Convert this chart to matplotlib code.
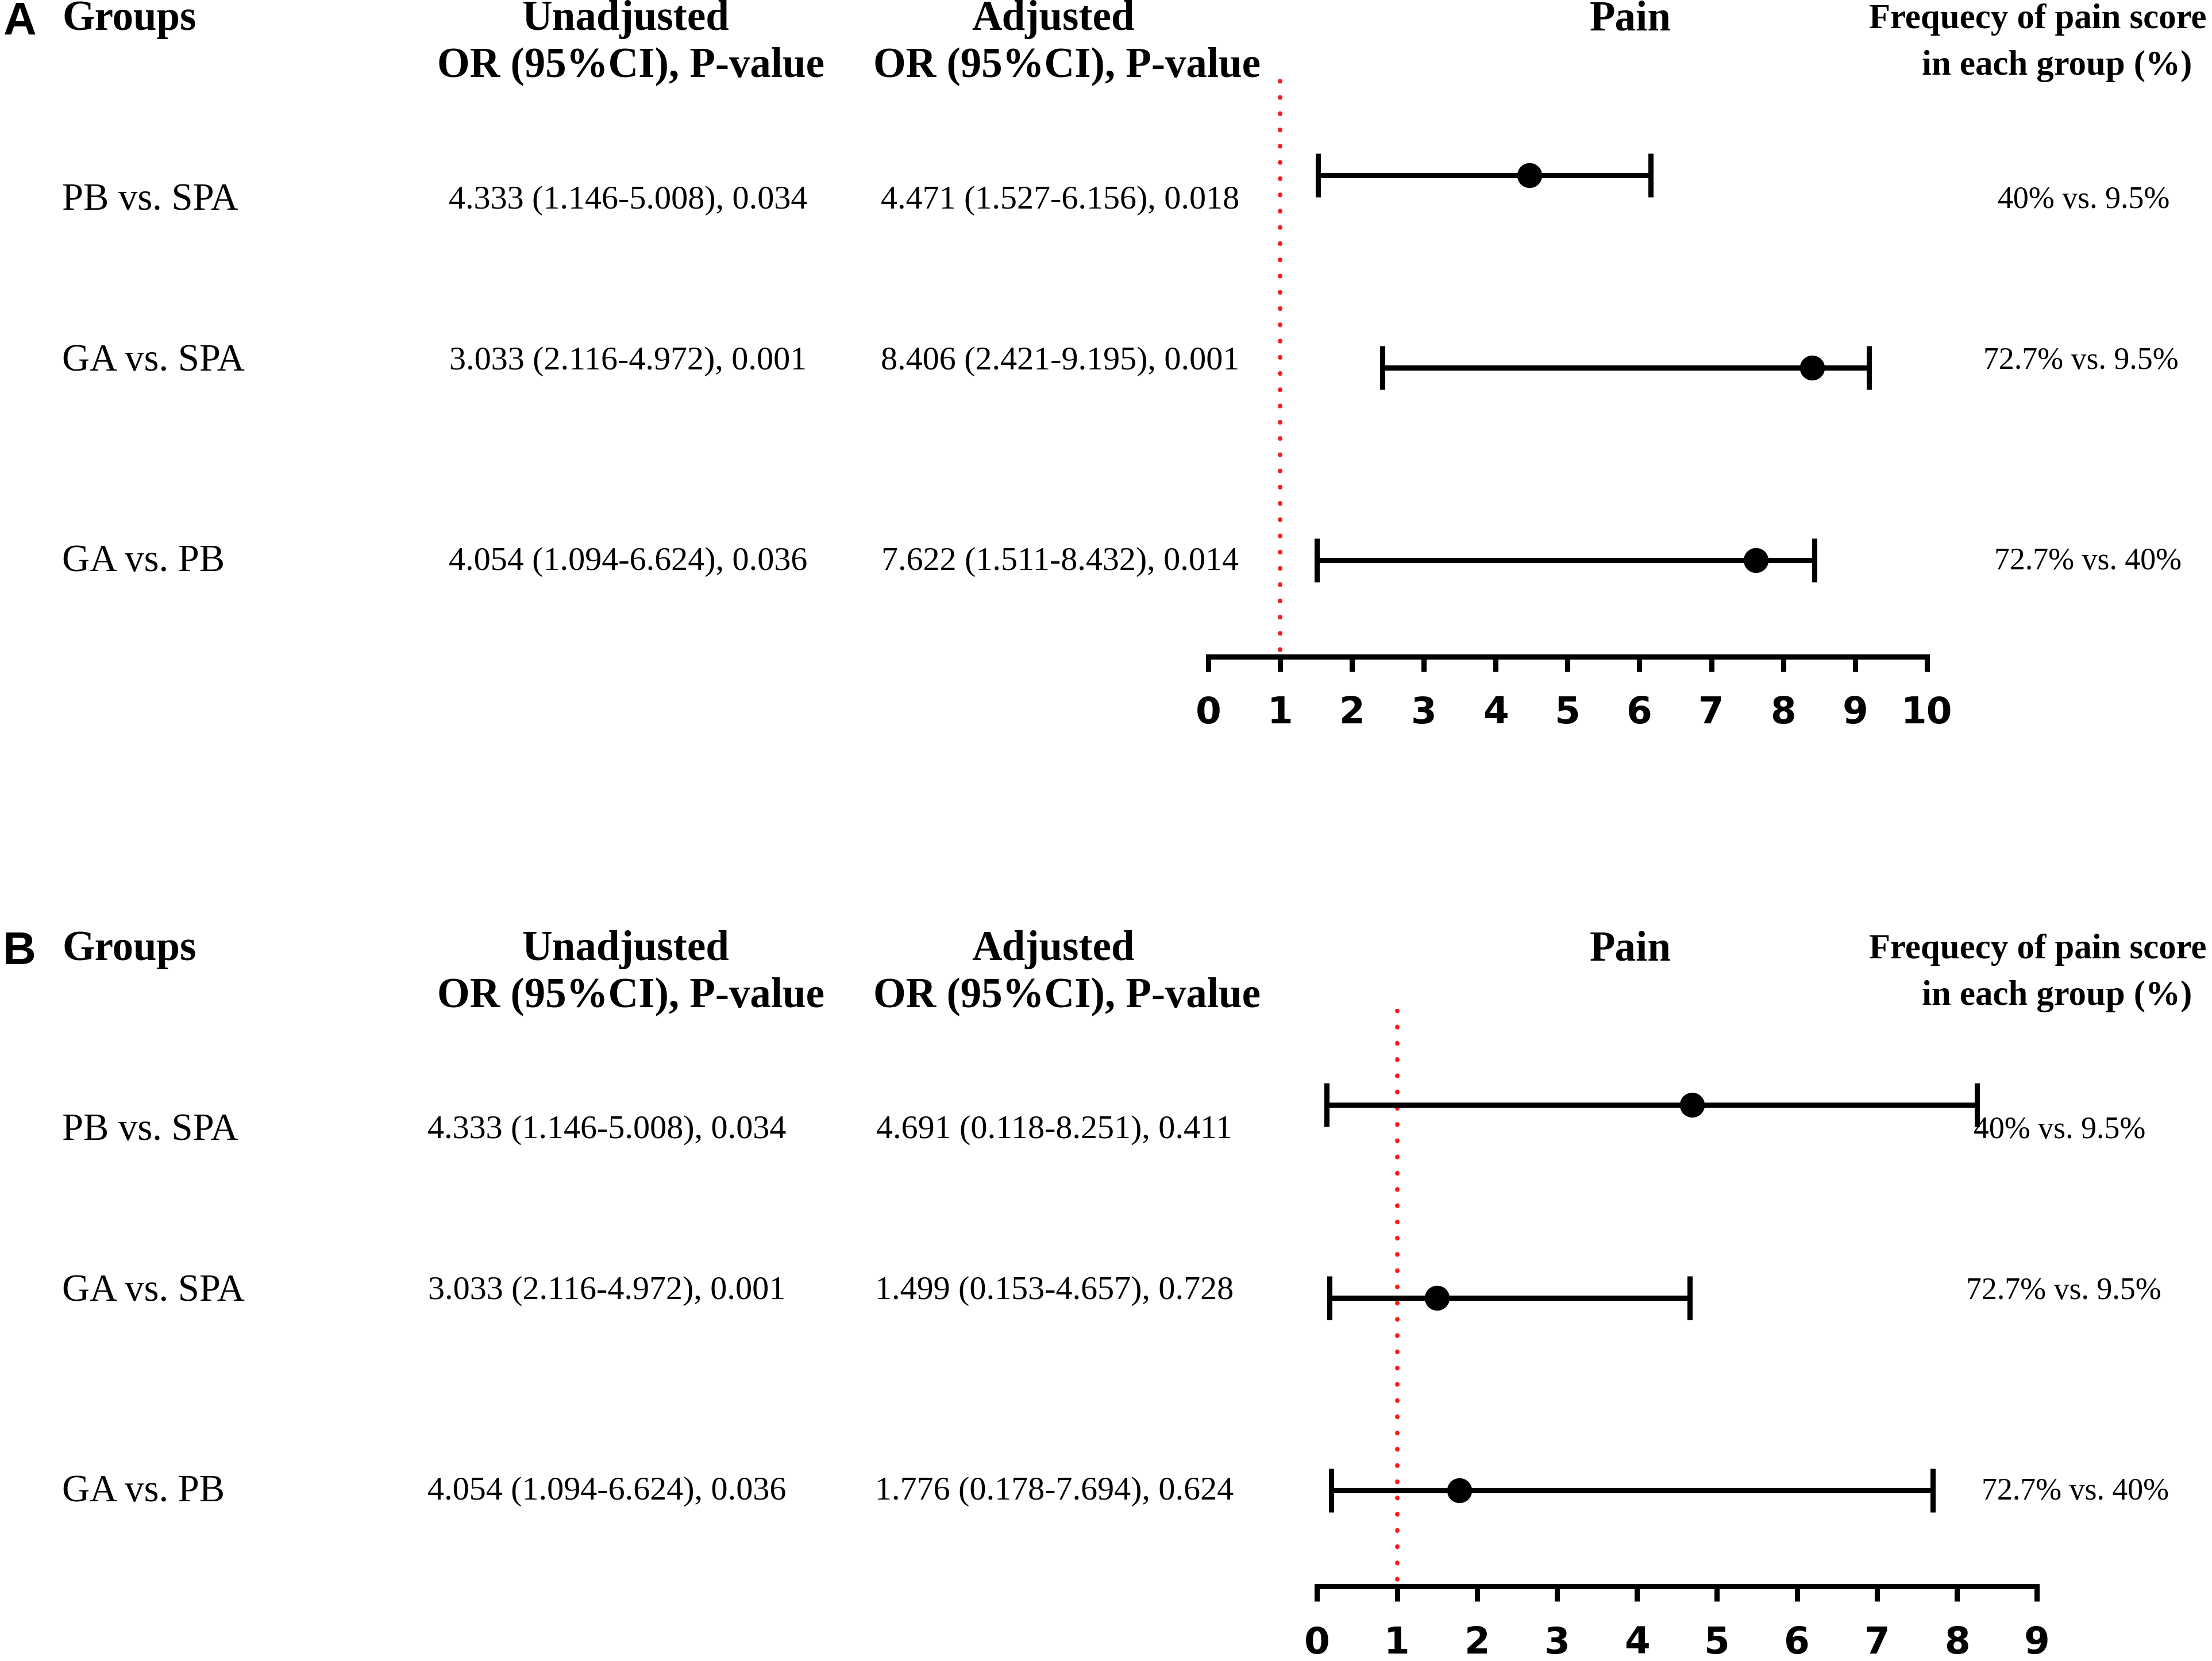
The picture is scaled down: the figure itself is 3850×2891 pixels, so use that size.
import matplotlib
matplotlib.use('Agg')
import matplotlib.pyplot as plt

# data
groups = ['PB vs. SPA', 'GA vs. SPA', 'GA vs. PB']
unadj_or = [4.333, 3.033, 4.054]
unadj_lo = [1.146, 2.116, 1.094]
unadj_hi = [5.008, 4.972, 6.624]
unadj_p = [0.034, 0.001, 0.036]

adj_a_or = [4.471, 8.406, 7.622]
adj_a_lo = [1.527, 2.421, 1.511]
adj_a_hi = [6.156, 9.195, 8.432]
adj_a_p = [0.018, 0.001, 0.014]

adj_b_or = [4.691, 1.499, 1.776]
adj_b_lo = [0.118, 0.153, 0.178]
adj_b_hi = [8.251, 4.657, 7.694]
adj_b_p = [0.411, 0.728, 0.624]

freq = ['40% vs. 9.5%', '72.7% vs. 9.5%', '72.7% vs. 40%']
ticks_a = list(range(0, 11))
ticks_b = list(range(0, 10))

# layout is worked out on a 1567 x 1177 grid (the reference at screen size)
W, H = 1567, 1177
SERIF = 'Liberation Serif'

fig = plt.figure(figsize=(15.4, 11.564), dpi=250)


def fx(x):
    return x / W


def fy(y):
    return 1 - y / H


def fmt_or(o, lo, hi, p):
    return f'{o:.3f} ({lo:.3f}-{hi:.3f}), {p:.3f}'


def draw_panel(dy, label, adj_or, adj_lo, adj_hi, adj_p, ticks,
               ax_x0, ax_x1, unadj_x, adj_x, freq_x):
    # headers
    fig.text(fx(2), fy(16 + dy), label, fontsize=23, fontweight='bold',
             family='Liberation Sans', ha='left', va='center')
    hdr = dict(fontsize=21, fontweight='bold', family=SERIF, va='center')
    fig.text(fx(44), fy(14 + dy), 'Groups', ha='left', **hdr)
    fig.text(fx(443), fy(14 + dy), 'Unadjusted', ha='center', **hdr)
    fig.text(fx(447), fy(47 + dy), 'OR (95%CI), P-value', ha='center', **hdr)
    fig.text(fx(746), fy(14 + dy), 'Adjusted', ha='center', **hdr)
    fig.text(fx(756), fy(47 + dy), 'OR (95%CI), P-value', ha='center', **hdr)
    fig.text(fx(1155), fy(14 + dy), 'Pain', ha='center', **hdr)
    fig.text(fx(1563), fy(14 + dy), 'Frequecy of pain score', ha='right',
             **dict(hdr, fontsize=17.5))
    fig.text(fx(1553), fy(47 + dy), 'in each group (%)', ha='right',
             **dict(hdr, fontsize=17.5))

    # table rows
    row_y = [142, 256, 398]
    for i in range(len(groups)):
        y = fy(row_y[i] + dy)
        fig.text(fx(44), y, groups[i], fontsize=19.2, family=SERIF,
                 ha='left', va='center')
        fig.text(fx(unadj_x), y,
                 fmt_or(unadj_or[i], unadj_lo[i], unadj_hi[i], unadj_p[i]),
                 fontsize=16.7, family=SERIF, ha='center', va='center')
        fig.text(fx(adj_x), y,
                 fmt_or(adj_or[i], adj_lo[i], adj_hi[i], adj_p[i]),
                 fontsize=16.7, family=SERIF, ha='center', va='center')
        fig.text(fx(freq_x[i]), y, freq[i], fontsize=15.5, family=SERIF,
                 ha='center', va='center')

    # forest plot
    top = 124 - 68.25 + dy
    spine = 124 + 136.5 * 2.5 + dy
    ax = fig.add_axes([fx(ax_x0), fy(spine), fx(ax_x1) - fx(ax_x0),
                       (spine - top) / H])
    rows = list(range(len(groups)))
    xerr = [[o - lo for o, lo in zip(adj_or, adj_lo)],
            [hi - o for o, hi in zip(adj_or, adj_hi)]]
    ax.axvline(1, ymin=0.012, ymax=1, color='#ff1a1a', lw=2.2,
               linestyle=(0, (0.1, 3.6)), dash_capstyle='round', zorder=1)
    ax.errorbar(adj_or, rows, xerr=xerr, fmt='o', color='black', ms=11.5,
                elinewidth=2.6, capsize=11, capthick=2.6, zorder=3,
                clip_on=False)
    ax.set_xlim(ticks[0], ticks[-1])
    ax.set_ylim(2.5, -0.5)
    for s in ['left', 'top', 'right']:
        ax.spines[s].set_visible(False)
    ax.spines['bottom'].set_linewidth(2.6)
    ax.set_yticks([])
    ax.set_xticks(ticks)
    ax.tick_params(axis='x', direction='out', length=7.5, width=2.6, pad=12,
                   labelsize=18.5)
    for t in ax.get_xticklabels():
        t.set_fontweight('bold')
        t.set_family('DejaVu Sans')
    ax.patch.set_alpha(0)


draw_panel(0, 'A', adj_a_or, adj_a_lo, adj_a_hi, adj_a_p, ticks_a,
           856, 1365, 445, 751, [1476, 1474, 1479])
draw_panel(659, 'B', adj_b_or, adj_b_lo, adj_b_hi, adj_b_p, ticks_b,
           933, 1443, 430, 747, [1459, 1462, 1470])

fig.savefig('out.png', dpi=250, facecolor='white')
